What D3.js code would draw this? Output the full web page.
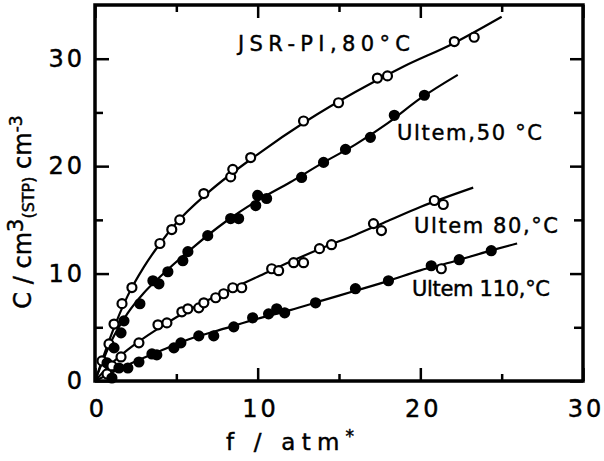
<!DOCTYPE html>
<html><head><meta charset="utf-8">
<script src="https://cdn.jsdelivr.net/npm/d3@7"></script>
<style>body{margin:0;background:#fff}svg{display:block}text{font-family:"DejaVu Sans",sans-serif;fill:#000;stroke:#000;stroke-width:0.45px}</style>
</head><body><div id="chart"></div>
<script>
// ---- data (f / atm*, C / cm3(STP) cm-3) ----
const xTicksMajor = [0, 10, 20, 30];
const xTicksMinor = [5, 15, 25];
const yTicksMajor = [0, 10, 20, 30];
const yTicksMinor = [5, 15, 25];

const jsrPts = [[0.43,1.87],[0.86,3.45],[1.17,5.3],[1.66,7.2],[2.27,8.7],[3.99,12.8],[4.72,14.1],[5.21,15.0],[6.69,17.45],[8.34,19.0],[8.47,19.7],[9.57,20.8],[12.82,24.2],[14.97,25.9],[17.36,28.2],[17.98,28.4],[22.09,31.6],[23.31,32.0]];
const jsrFit = [[0,0],[0.5,2.2],[1,4.3],[2,7.9],[3,10.6],[4,12.8],[5,14.7],[7,17.6],[10,21.1],[13,24.2],[16,26.9],[19,29.3],[22,31.4],[25,33.9]];

const u50Pts = [[0.74,1.68],[1.17,3.08],[1.6,4.48],[1.78,5.6],[2.76,7.19],[3.56,9.33],[3.93,9.05],[4.48,10.17],[5.4,11.2],[5.71,12.04],[6.93,13.53],[8.34,15.12],[8.83,15.12],[9.88,16.33],[10.0,17.27],[10.55,16.99],[12.7,18.95],[14.05,20.35],[15.4,21.56],[16.93,22.68],[18.4,24.73],[20.25,26.6]];
const u50Fit = [[0,0],[1,3.7],[2,6.3],[3,8.2],[4,9.7],[6,12.4],[8,14.8],[10,16.8],[12,18.5],[14,20.3],[16,22.0],[18,24.0],[20,26.3],[22.3,28.5]];

const u80Pts = [[0.74,0.65],[1.04,1.4],[1.6,2.24],[2.7,3.55],[3.87,5.23],[4.42,5.41],[5.34,6.44],[5.71,6.72],[6.38,6.81],[6.69,7.28],[7.42,7.75],[7.91,8.12],[8.47,8.68],[9.02,8.68],[10.86,10.45],[11.29,10.27],[12.21,11.01],[12.82,11.01],[13.8,12.32],[14.54,12.69],[17.12,14.65],[17.61,14.0],[20.86,16.8],[21.41,16.43]];
const u80Fit = [[0,0],[1,1.6],[2,2.9],[4,5.0],[6,6.8],[8,8.3],[10,9.7],[12,11.1],[14,12.4],[16,13.6],[18,14.9],[20,16.2],[23.25,18.0]];

const u110Pts = [[1.04,0.28],[1.47,1.21],[2.02,1.21],[2.7,1.77],[3.5,2.52],[3.8,2.43],[4.85,3.08],[5.28,3.55],[6.38,4.2],[7.3,4.2],[8.53,5.04],[9.69,5.88],[10.67,6.25],[11.17,6.72],[11.66,6.35],[13.56,7.28],[16.01,8.59],[18.04,9.33],[20.67,10.73],[22.39,11.29],[24.36,12.13]];
const u110Open = [[21.29,10.45]];
const u110Fit = [[0,0],[2,1.5],[4,2.8],[6,4.0],[8,4.9],[10,5.8],[12,6.6],[14,7.5],[16,8.4],[18,9.3],[20,10.3],[22,11.1],[24,12.0],[25.95,12.8]];

const seriesLabels = ["JSR-PI,80°C", "Ultem,50 °C", "Ultem 80,°C", "Ultem 110,°C"];

// ---- layout ----
const W = 604, H = 461;
const L = 95, R = 583, T = 5, B = 381;
const x = d3.scaleLinear().domain([0, 30]).range([L, R]);
const y = d3.scaleLinear().domain([0, 35]).range([B, T]);

const svg = d3.select("#chart").append("svg").attr("width", W).attr("height", H);

// frame
svg.append("rect").attr("x", L).attr("y", T).attr("width", R - L).attr("height", B - T)
  .attr("fill", "none").attr("stroke", "#000").attr("stroke-width", 3.5);

function axisStyle(g) {
  g.select(".domain").remove();
  g.selectAll(".tick line").attr("stroke", "#000").attr("stroke-width", 2.5);
  g.selectAll(".tick text").attr("font-size", 24).attr("letter-spacing", 3).attr("font-family", "DejaVu Sans");
}
// bottom
svg.append("g").attr("transform", `translate(0,${B})`)
  .call(d3.axisBottom(x).tickValues(xTicksMajor).tickSizeInner(-13).tickSizeOuter(0).tickPadding(19).tickFormat(d3.format("d")))
  .call(axisStyle).call(g => g.selectAll(".tick text").attr("dx", "0.1em"));
svg.append("g").attr("transform", `translate(0,${B})`)
  .call(d3.axisBottom(x).tickValues(xTicksMinor).tickSizeInner(-7).tickSizeOuter(0).tickFormat(""))
  .call(axisStyle);
// top
svg.append("g").attr("transform", `translate(0,${T})`)
  .call(d3.axisTop(x).tickValues(xTicksMajor).tickSizeInner(-13).tickSizeOuter(0).tickFormat(""))
  .call(axisStyle);
svg.append("g").attr("transform", `translate(0,${T})`)
  .call(d3.axisTop(x).tickValues(xTicksMinor).tickSizeInner(-7).tickSizeOuter(0).tickFormat(""))
  .call(axisStyle);
// left
svg.append("g").attr("transform", `translate(${L},0)`)
  .call(d3.axisLeft(y).tickValues(yTicksMajor).tickSizeInner(-14).tickSizeOuter(0).tickPadding(10).tickFormat(d3.format("d")))
  .call(axisStyle);
svg.append("g").attr("transform", `translate(${L},0)`)
  .call(d3.axisLeft(y).tickValues(yTicksMinor).tickSizeInner(-8).tickSizeOuter(0).tickFormat(""))
  .call(axisStyle);
// right
svg.append("g").attr("transform", `translate(${R},0)`)
  .call(d3.axisRight(y).tickValues(yTicksMajor).tickSizeInner(-13).tickSizeOuter(0).tickFormat(""))
  .call(axisStyle);
svg.append("g").attr("transform", `translate(${R},0)`)
  .call(d3.axisRight(y).tickValues(yTicksMinor).tickSizeInner(-9).tickSizeOuter(0).tickFormat(""))
  .call(axisStyle);

// fitted curves
const line = d3.line().x(d => x(d[0])).y(d => y(d[1])).curve(d3.curveMonotoneX);
[jsrFit, u50Fit, u80Fit, u110Fit].forEach(f => {
  svg.append("path").datum(f).attr("d", line).attr("fill", "none").attr("stroke", "#000").attr("stroke-width", 2.2);
});

// markers
function marks(data, filled) {
  svg.append("g").selectAll("circle").data(data).join("circle")
    .attr("cx", d => x(d[0])).attr("cy", d => y(d[1])).attr("r", 4.5)
    .attr("fill", filled ? "#000" : "#fff").attr("stroke", "#000").attr("stroke-width", 2.2);
}
marks(jsrPts, false);
marks(u50Pts, true);
marks(u80Pts, false);
marks(u110Pts, true);
marks(u110Open, false);

// series labels
const lab = [[238, 51, 172], [397, 140, 145], [414, 233, 144], [412, 296, 138]];
seriesLabels.forEach((t, i) => {
  svg.append("text").attr("x", lab[i][0]).attr("y", lab[i][1]).attr("font-size", 21)
    .attr("textLength", lab[i][2]).attr("lengthAdjust", "spacing").text(t);
});

// axis titles
const xt = svg.append("text").attr("x", 226).attr("y", 450).attr("font-size", 23)
  .attr("textLength", 128).attr("lengthAdjust", "spacing");
xt.append("tspan").text("f  /  atm");
xt.append("tspan").attr("font-size", 17).attr("dy", -8).text("*");

const yt = svg.append("text").attr("transform", "translate(31,212) rotate(-90)")
  .attr("text-anchor", "middle").attr("font-size", 24);
yt.append("tspan").text("C / cm");
yt.append("tspan").attr("font-size", 21).attr("dy", -8).text("3");
yt.append("tspan").attr("font-size", 16).attr("dy", 11).text("(STP)");
yt.append("tspan").attr("dy", -3).text(" cm");
yt.append("tspan").attr("font-size", 17).attr("dy", -9).text("-3");
</script></body></html>
